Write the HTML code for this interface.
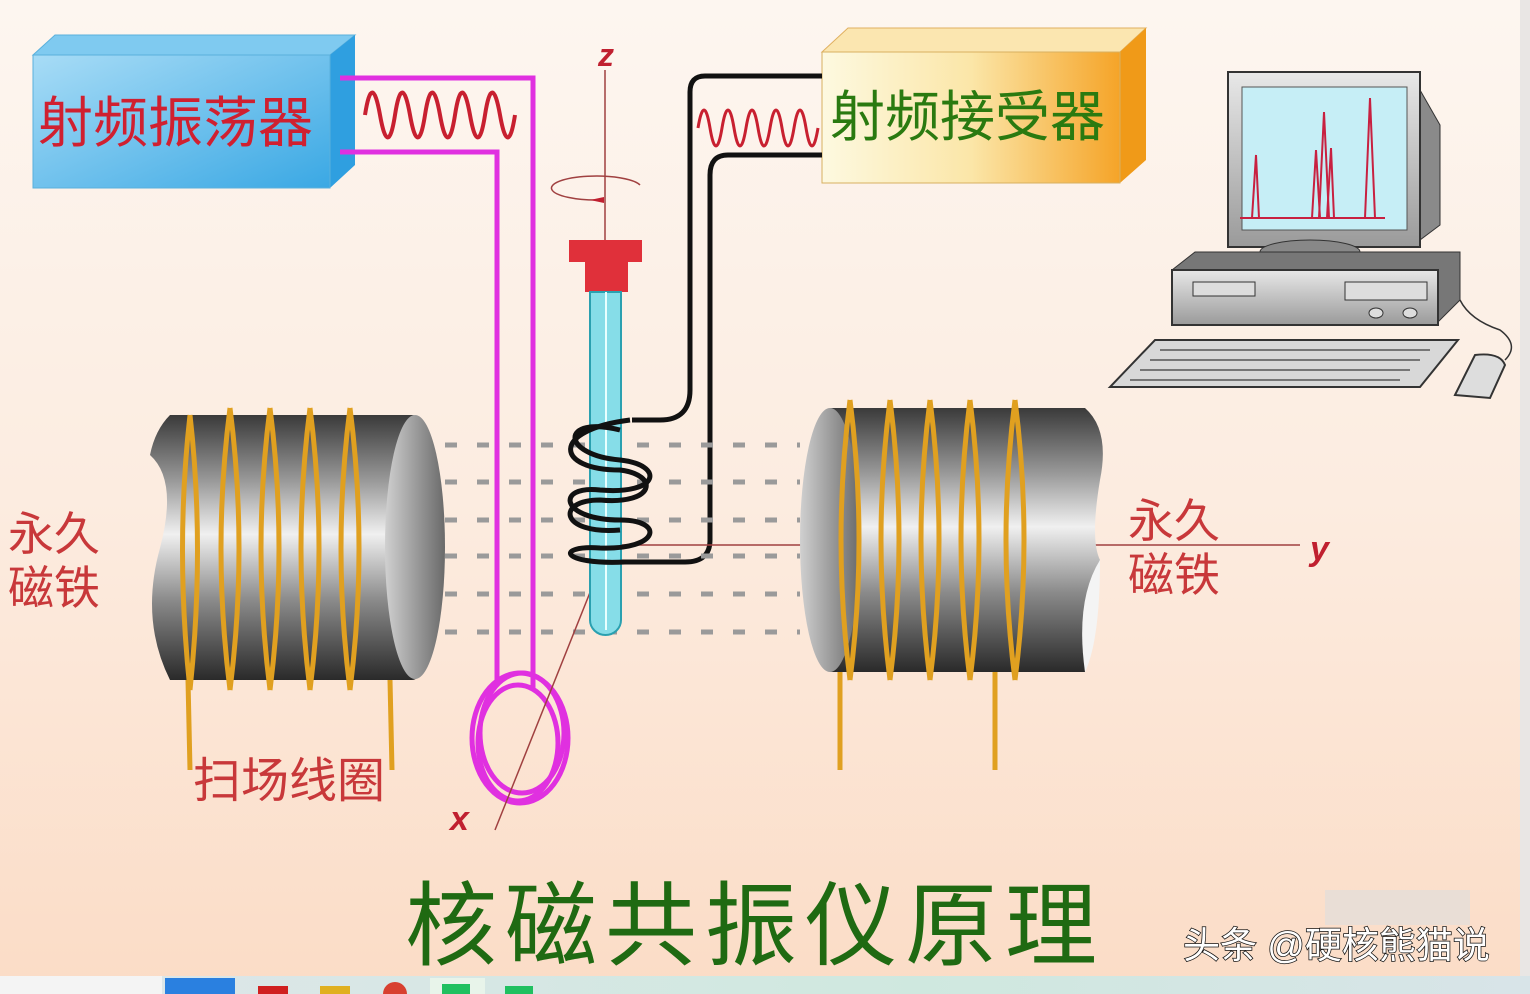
<!DOCTYPE html>
<html><head><meta charset="utf-8"><style>
html,body{margin:0;padding:0;width:1530px;height:994px;overflow:hidden;background:#fcefe6}
svg{display:block}
text{font-family:"Liberation Sans","Noto Sans CJK SC",sans-serif}
</style></head><body>
<svg width="1530" height="994" viewBox="0 0 1530 994" xmlns="http://www.w3.org/2000/svg">
<defs>
<linearGradient id="bg" x1="0" y1="0" x2="0" y2="1">
<stop offset="0" stop-color="#fdf6f0"/><stop offset="0.5" stop-color="#fcece0"/><stop offset="1" stop-color="#fbdcc6"/></linearGradient>
<linearGradient id="blue" x1="0" y1="0" x2="1" y2="1">
<stop offset="0" stop-color="#a8dcf6"/><stop offset="1" stop-color="#3aa8e4"/></linearGradient>
<linearGradient id="orange" x1="0" y1="0" x2="1" y2="0">
<stop offset="0" stop-color="#fdf9e0"/><stop offset="0.5" stop-color="#fbe6a8"/><stop offset="1" stop-color="#f5a428"/></linearGradient>
<linearGradient id="metal" x1="0" y1="0" x2="0" y2="1">
<stop offset="0" stop-color="#3a3a3a"/><stop offset="0.25" stop-color="#9a9a9a"/><stop offset="0.45" stop-color="#f0f0f0"/><stop offset="0.7" stop-color="#8a8a8a"/><stop offset="1" stop-color="#2a2a2a"/></linearGradient>
<linearGradient id="face" x1="0" y1="0" x2="1" y2="0">
<stop offset="0" stop-color="#d0d0d0"/><stop offset="1" stop-color="#6a6a6a"/></linearGradient>
<linearGradient id="gray" x1="0" y1="0" x2="0" y2="1">
<stop offset="0" stop-color="#e8e8e8"/><stop offset="1" stop-color="#9a9a9a"/></linearGradient>
<linearGradient id="task" x1="0" y1="0" x2="1" y2="0">
<stop offset="0" stop-color="#dfe6ea"/><stop offset="0.6" stop-color="#cfe8df"/><stop offset="1" stop-color="#d8e4e8"/></linearGradient>
</defs>
<rect width="1530" height="994" fill="url(#bg)"/>
<rect x="1520" y="0" width="10" height="994" fill="#e9e6e4"/>

<!-- blue box -->
<polygon points="33,55 55,35 355,35 330,55" fill="#7fcaf0" stroke="#5ab0dc"/>
<polygon points="330,55 355,35 355,165 330,188" fill="#2f9fe0"/>
<rect x="33" y="55" width="297" height="133" fill="url(#blue)" stroke="#5ab0dc"/>
<text x="38" y="142" font-size="55" fill="#d02030">射频振荡器</text>

<!-- orange box -->
<polygon points="822,52 848,28 1146,28 1120,52" fill="#fbe6b0" stroke="#e0b060"/>
<polygon points="1120,52 1146,28 1146,160 1120,183" fill="#f09a18"/>
<rect x="822" y="52" width="298" height="131" fill="url(#orange)" stroke="#d8b060"/>
<text x="830" y="136" font-size="55" fill="#2a7a10">射频接受器</text>

<!-- magenta wires -->
<g fill="none" stroke="#e030e0" stroke-width="5">
<path d="M340,78 H533 V690"/>
<path d="M340,152 H497 V685"/>
<ellipse cx="520" cy="738" rx="48" ry="65"/>
<ellipse cx="522" cy="733" rx="42" ry="60"/>
<ellipse cx="518" cy="743" rx="40" ry="58"/>
</g>
<path d="M365,115 q7,-45 15,0 t15,0 t15,0 t15,0 t15,0 t15,0 t15,0 t15,0 t15,0 t15,0" fill="none" stroke="#c82030" stroke-width="4"/>

<!-- black wires -->
<g fill="none" stroke="#111" stroke-width="5">
<path d="M822,76 H705 Q690,76 690,92 V390 Q690,420 660,420 H632"/>
<path d="M822,155 H728 Q710,155 710,175 V540 Q710,562 685,562 H620"/>
</g>
<path d="M698,128 q6,-36 12,0 t12,0 t12,0 t12,0 t12,0 t12,0 t12,0 t12,0 t12,0 t12,0" fill="none" stroke="#c82030" stroke-width="3"/>

<!-- dashed field lines -->
<g stroke="#9a9a9a" stroke-width="5" stroke-dasharray="12,20">
<line x1="445" y1="445" x2="800" y2="445"/>
<line x1="445" y1="482" x2="800" y2="482"/>
<line x1="445" y1="520" x2="800" y2="520"/>
<line x1="445" y1="556" x2="800" y2="556"/>
<line x1="445" y1="594" x2="800" y2="594"/>
<line x1="445" y1="632" x2="800" y2="632"/>
</g>

<!-- axes -->
<g stroke="#a04040" stroke-width="1.5" fill="none">
<line x1="605" y1="70" x2="605" y2="560"/>
<line x1="605" y1="545" x2="1300" y2="545"/>
<line x1="605" y1="555" x2="495" y2="830"/>
<path d="M640,185 A45,12 0 1 0 600,200"/>
</g>
<path d="M590,200 l14,-3 l0,6 z" fill="#c02030"/>
<text x="598" y="66" font-size="32" font-style="italic" font-weight="bold" fill="#c02030" font-family="Liberation Serif,serif">z</text>
<text x="1310" y="560" font-size="34" font-style="italic" font-weight="bold" fill="#c02030" font-family="Liberation Serif,serif">y</text>
<text x="450" y="830" font-size="34" font-style="italic" font-weight="bold" fill="#c02030" font-family="Liberation Serif,serif">x</text>

<!-- left magnet -->
<path d="M170,415 H412 A30,132 0 0 1 412,680 H170 Q140,620 160,548 Q178,480 150,455 Q155,430 170,415 Z" fill="url(#metal)"/>
<ellipse cx="415" cy="547" rx="30" ry="132" fill="url(#face)"/>
<g fill="none" stroke="#e0a020" stroke-width="5">
<path d="M190,415 Q175,548 190,690 M190,415 Q205,548 190,690"/>
<path d="M230,408 Q212,548 230,690 M230,408 Q248,548 230,690"/>
<path d="M270,408 Q252,548 270,690 M270,408 Q288,548 270,690"/>
<path d="M310,408 Q292,548 310,690 M310,408 Q328,548 310,690"/>
<path d="M350,408 Q332,548 350,690 M350,408 Q368,548 350,690"/>
<line x1="188" y1="680" x2="190" y2="770"/>
<line x1="390" y1="680" x2="392" y2="770"/>
</g>

<!-- right magnet -->
<path d="M830,408 H1085 Q1110,430 1100,480 Q1090,540 1100,560 Q1080,600 1085,672 H830 Z" fill="url(#metal)"/>
<ellipse cx="830" cy="540" rx="30" ry="132" fill="url(#face)"/>
<path d="M1100,560 Q1075,600 1085,672 Q1100,640 1100,560 Z" fill="#f4f4f4"/>
<g fill="none" stroke="#e0a020" stroke-width="5">
<path d="M850,400 Q832,540 850,680 M850,400 Q868,540 850,680"/>
<path d="M890,400 Q872,540 890,680 M890,400 Q908,540 890,680"/>
<path d="M930,400 Q912,540 930,680 M930,400 Q948,540 930,680"/>
<path d="M970,400 Q952,540 970,680 M970,400 Q988,540 970,680"/>
<path d="M1015,400 Q997,540 1015,680 M1015,400 Q1033,540 1015,680"/>
<line x1="840" y1="672" x2="840" y2="770"/>
<line x1="995" y1="672" x2="995" y2="770"/>
</g>

<!-- tube -->
<rect x="569" y="240" width="73" height="22" fill="#e0303a"/>
<rect x="585" y="262" width="43" height="30" fill="#e0303a"/>
<path d="M590,292 H621 V620 A15.5,15 0 0 1 590,620 Z" fill="#86dde8" stroke="#2aa0b0" stroke-width="2"/>
<line x1="606" y1="292" x2="606" y2="630" stroke="#e8ffff" stroke-width="2"/>
<!-- RF coil -->
<g fill="none" stroke="#111" stroke-width="5">
<path d="M620,430 C560,415 560,455 620,460 C665,465 660,495 600,490 C555,485 560,520 620,520 C665,520 660,550 600,548 C555,545 560,565 625,562"/>
<path d="M630,420 C550,430 555,470 620,470 C660,475 655,505 600,500 C555,500 560,535 620,530"/>
</g>

<!-- labels -->
<g font-size="46" fill="#c8383a">
<text x="8" y="550">永久</text><text x="8" y="604">磁铁</text>
<text x="1128" y="537">永久</text><text x="1128" y="591">磁铁</text>
</g>
<text x="193" y="797" font-size="48" fill="#c8383a">扫场线圈</text>

<!-- computer -->
<polygon points="1420,90 1440,125 1440,225 1420,240" fill="#8a8a8a" stroke="#333"/>
<rect x="1228" y="72" width="192" height="175" fill="url(#gray)" stroke="#333" stroke-width="2"/>
<rect x="1242" y="87" width="165" height="143" fill="#c6eef6" stroke="#555"/>
<g stroke="#c82040" stroke-width="2" fill="none">
<path d="M1240,218 H1385"/>
<path d="M1252,218 L1256,155 L1259,218"/>
<path d="M1312,218 L1316,150 L1320,218"/>
<path d="M1319,218 L1324,112 L1329,218"/>
<path d="M1327,218 L1331,148 L1334,218"/>
<path d="M1365,218 L1370,98 L1375,218"/>
</g>
<ellipse cx="1310" cy="252" rx="50" ry="12" fill="#888" stroke="#333"/>
<polygon points="1172,270 1195,252 1460,252 1460,300 1438,322" fill="#777" stroke="#333"/>
<rect x="1172" y="270" width="266" height="55" fill="url(#gray)" stroke="#333" stroke-width="2"/>
<rect x="1193" y="282" width="62" height="14" fill="#ddd" stroke="#333"/>
<rect x="1345" y="282" width="82" height="18" fill="#ddd" stroke="#333"/>
<ellipse cx="1376" cy="313" rx="7" ry="5" fill="#ddd" stroke="#333"/>
<ellipse cx="1410" cy="313" rx="7" ry="5" fill="#ddd" stroke="#333"/>
<polygon points="1155,340 1458,340 1420,387 1110,387" fill="#d8d8d8" stroke="#333" stroke-width="2"/>
<g stroke="#555" stroke-width="1.5">
<line x1="1160" y1="350" x2="1430" y2="350"/><line x1="1150" y1="360" x2="1420" y2="360"/>
<line x1="1140" y1="370" x2="1410" y2="370"/><line x1="1130" y1="380" x2="1400" y2="380"/>
</g>
<path d="M1460,300 Q1470,320 1500,330 Q1520,345 1505,360" fill="none" stroke="#333" stroke-width="1.5"/>
<path d="M1455,395 L1475,355 Q1500,352 1505,365 L1490,398 Z" fill="#ddd" stroke="#333" stroke-width="2"/>

<!-- title -->
<text x="405" y="958" font-size="92" fill="#1f6a12" letter-spacing="8">核磁共振仪原理</text>
<rect x="1325" y="890" width="145" height="35" fill="#ddd" opacity="0.6"/>
<text x="1183" y="958" font-size="37" fill="#fff" stroke="#111" stroke-width="1.5" paint-order="stroke">头条 @硬核熊猫说</text>

<!-- taskbar -->
<rect x="0" y="976" width="1530" height="18" fill="url(#task)"/>
<rect x="0" y="976" width="162" height="18" fill="#f4f4f4"/>
<rect x="165" y="978" width="70" height="16" fill="#2a80e0"/>
<rect x="258" y="986" width="30" height="8" fill="#d02020"/>
<rect x="320" y="986" width="30" height="8" fill="#e0b020"/>
<circle cx="395" cy="994" r="12" fill="#d84030"/>
<rect x="430" y="978" width="55" height="16" fill="#e8f4ea"/>
<rect x="442" y="984" width="28" height="10" fill="#20c060"/>
<rect x="505" y="986" width="28" height="8" fill="#20c060"/>
</svg>
</body></html>
